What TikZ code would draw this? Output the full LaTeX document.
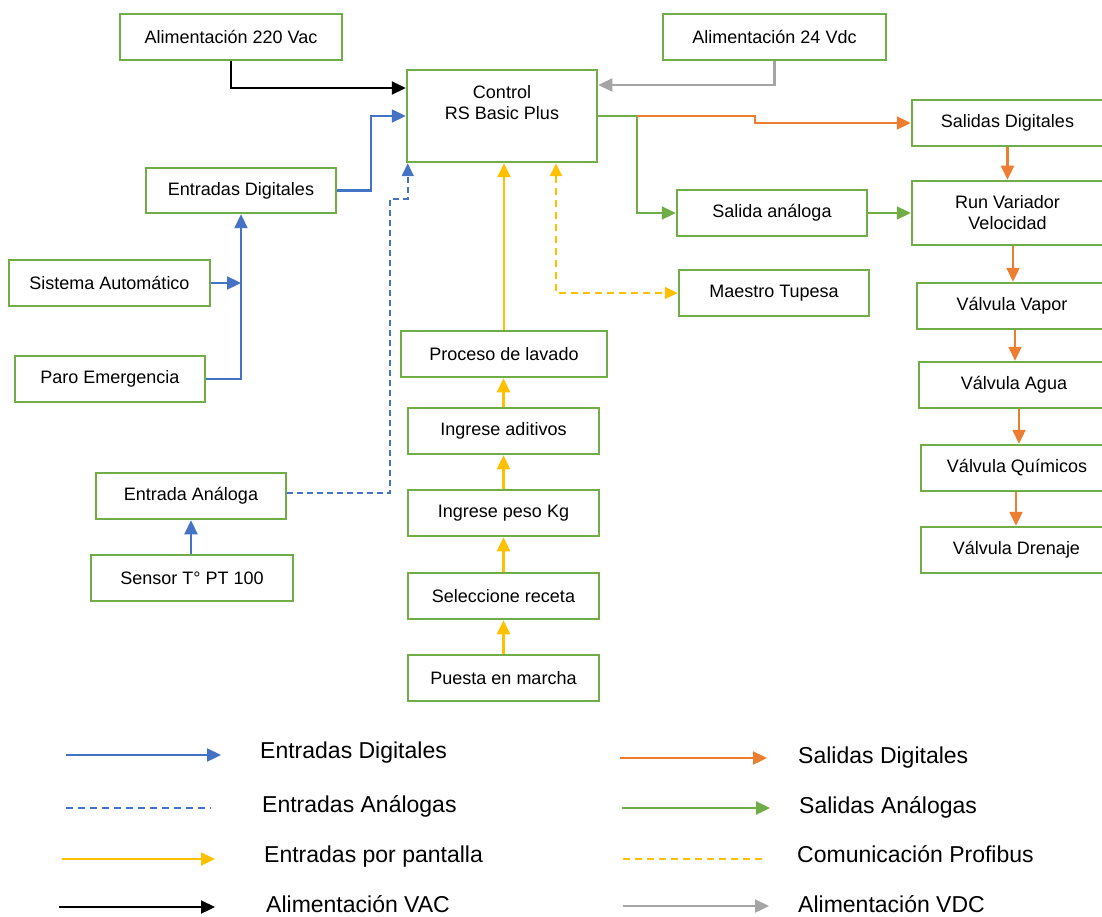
\documentclass[tikz,border=0pt]{standalone}
\usepackage{fontspec}
\setmainfont{Liberation Sans}
\usetikzlibrary{arrows.meta}
\definecolor{bxgreen}{HTML}{70AD47}
\definecolor{lnblue}{HTML}{4472C4}
\definecolor{lnorange}{HTML}{ED7D31}
\definecolor{lnyellow}{HTML}{FFC000}
\definecolor{lngray}{HTML}{A5A5A5}
\tikzset{
  box/.style={draw=bxgreen, line width=2.5pt, minimum height=46pt, inner sep=0pt, font=\fontsize{18}{21}\selectfont, text=black},
  tip/.style={-{Triangle[length=14pt,width=13pt]}},
  conn/.style={line width=2.3pt},
  din/.style={conn, lnblue, tip},
  ain/.style={conn, lnblue, line width=1.7pt, dash pattern=on 6pt off 4pt, -{Triangle[length=13pt,width=12pt]}},
  scr/.style={conn, lnyellow, tip},
  prof/.style={conn, lnyellow, line width=1.7pt, dash pattern=on 7pt off 5pt, {Triangle[length=13pt,width=12pt]}-{Triangle[length=13pt,width=12pt]}},
  vac/.style={conn, black, tip},
  vdc/.style={conn, lngray, tip},
  dout/.style={conn, lnorange, tip},
  aout/.style={conn, bxgreen, tip},
  legtext/.style={anchor=west, font=\fontsize{23}{26}\selectfont, inner sep=0pt}
}
\begin{document}
\begin{tikzpicture}[x=1pt,y=-1pt]
\useasboundingbox (0,0) rectangle (1102,917);
% boxes
\node[box, minimum width=222pt] (alimA) at (231,37) {Alimentación 220 Vac};
\node[box, minimum width=223pt] (alimD) at (774.5,37) {Alimentación 24 Vdc};
\node[box, minimum width=190pt, minimum height=92pt] (ctrl) at (502,116) {};
\node[align=center, font=\fontsize{18}{21}\selectfont, inner sep=0pt] (ctrltext) at (502,102.5) {Control\\RS Basic Plus};
\node[box, minimum width=191pt] (sdig) at (1007.5,123) {Salidas Digitales};
\node[box, minimum width=190pt, minimum height=45pt] (edig) at (241,190.5) {Entradas Digitales};
\node[box, minimum width=190pt] (sana) at (772,213) {Salida análoga};
\node[box, minimum width=191pt, minimum height=64pt, align=center] (runv) at (1007.5,213) {Run Variador\\Velocidad};
\node[box, minimum width=201pt] (sauto) at (109.5,283) {Sistema Automático};
\node[box, minimum width=190pt] (maestro) at (774,293) {Maestro Tupesa};
\node[box, minimum width=190pt] (vvapor) at (1012,306) {Válvula Vapor};
\node[box, minimum width=206pt] (proceso) at (504,354) {Proceso de lavado};
\node[box, minimum width=190pt] (paro) at (110,379) {Paro Emergencia};
\node[box, minimum width=190pt] (vagua) at (1014,385) {Válvula Agua};
\node[box, minimum width=191pt] (aditivos) at (503.5,431) {Ingrese aditivos};
\node[box, minimum width=192pt] (vquim) at (1017,468) {Válvula Químicos};
\node[box, minimum width=190pt] (eana) at (191,496) {Entrada Análoga};
\node[box, minimum width=191pt] (peso) at (503.5,513) {Ingrese peso Kg};
\node[box, minimum width=191pt] (vdren) at (1016.5,550) {Válvula Drenaje};
\node[box, minimum width=202pt] (sensor) at (192,578) {Sensor T° PT 100};
\node[box, minimum width=191pt] (receta) at (503.5,596) {Seleccione receta};
\node[box, minimum width=191pt] (puesta) at (503.5,678) {Puesta en marcha};
% connectors
\draw[vac] (alimA.south) |- (ctrl.west |- 0,88);
\draw[vdc] (alimD.south) |- (ctrl.east |- 0,85);
\draw[din] (edig.east) -| (371,116) -- (ctrl.west);
\draw[ain] (eana.east |- 0,493) -| (390,199) -| ([xshift=2pt]ctrl.south west);
\draw[scr] (proceso.north) -- (ctrl.south -| proceso.north);
\draw[prof] (ctrl.south -| 556,0) |- (maestro.west);
\coordinate (split) at (637,116);
\draw[aout] (ctrl.east) -- (split) |- (sana.west);
\draw[dout] (split) -- (755,116) |- (sdig.west);
\draw[aout] (sana.east) -- (runv.west);
\draw[dout] (sdig.south) -- (runv.north);
\draw[dout] (runv.south -| 1013,0) -- (vvapor.north -| 1013,0);
\draw[dout] (vvapor.south -| 1015,0) -- (vagua.north -| 1015,0);
\draw[dout] (vagua.south -| 1019,0) -- (vquim.north -| 1019,0);
\draw[dout] (vquim.south -| 1016,0) -- (vdren.north -| 1016,0);
\draw[din] (sauto.east) -- (sauto.east -| edig.south);
\draw[din] (paro.east) -| (edig.south);
\draw[din] (sensor.north -| eana.south) -- (eana.south);
\draw[scr] (puesta.north) -- (receta.south);
\draw[scr] (receta.north) -- (peso.south);
\draw[scr] (peso.north) -- (aditivos.south);
\draw[scr] (aditivos.north) -- (aditivos.north |- proceso.south);
% legend
\coordinate (l1a) at (66,755); \coordinate (l1b) at (221,755);
\coordinate (l2a) at (66,808); \coordinate (l2b) at (211,808);
\coordinate (l3a) at (62,859); \coordinate (l3b) at (215,859);
\coordinate (l4a) at (59,907); \coordinate (l4b) at (215,907);
\coordinate (r1a) at (620,758); \coordinate (r1b) at (767,758);
\coordinate (r2a) at (622,808); \coordinate (r2b) at (770,808);
\coordinate (r3a) at (623,859); \coordinate (r3b) at (766,859);
\coordinate (r4a) at (623,906); \coordinate (r4b) at (769,906);
\draw[din] (l1a) -- (l1b);
\draw[lnblue, line width=1.7pt, dash pattern=on 7pt off 5pt] (l2a) -- (l2b);
\draw[scr] (l3a) -- (l3b);
\draw[vac] (l4a) -- (l4b);
\draw[dout] (r1a) -- (r1b);
\draw[aout] (r2a) -- (r2b);
\draw[lnyellow, line width=1.7pt, dash pattern=on 7pt off 5pt] (r3a) -- (r3b);
\draw[vdc] (r4a) -- (r4b);
\node[legtext] (t1) at (260,753) {Entradas Digitales};
\node[legtext] (t2) at (262,806) {Entradas Análogas};
\node[legtext] (t3) at (264,857) {Entradas por pantalla};
\node[legtext] (t4) at (266,904) {Alimentación VAC};
\node[legtext] (u1) at (798,758) {Salidas Digitales};
\node[legtext] (u2) at (799,807) {Salidas Análogas};
\node[legtext] (u3) at (797,854) {Comunicación Profibus};
\node[legtext] (u4) at (798,904) {Alimentación VDC};
\end{tikzpicture}
\end{document}
